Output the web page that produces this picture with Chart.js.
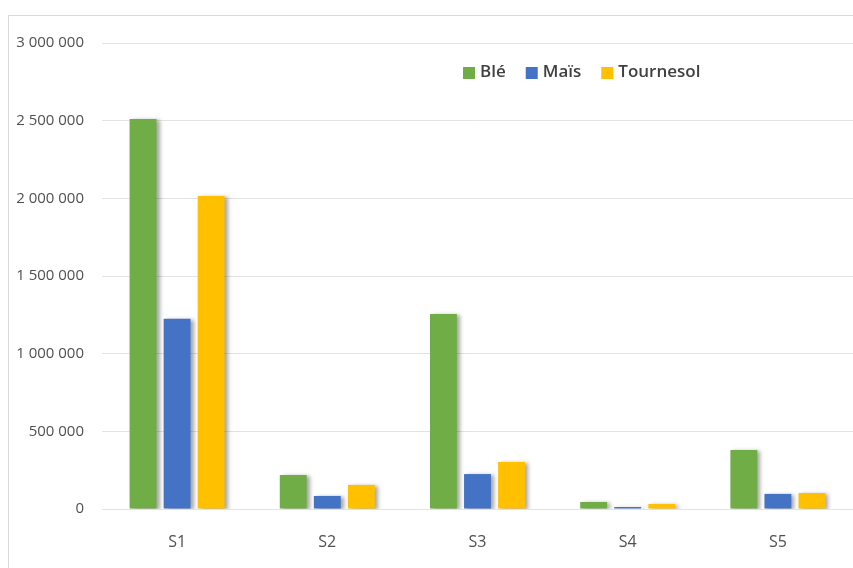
<!DOCTYPE html>
<html>
<head>
<meta charset="utf-8">
<script src="https://cdn.jsdelivr.net/npm/chart.js@4"></script>
<style>
  html, body { margin: 0; padding: 0; background: #fff; overflow: hidden; }
  #wrap { position: relative; width: 853px; height: 568px; }
  #frame { position: absolute; left: 8px; top: 15px; width: 900px; height: 600px; border: 1px solid #d9d9d9; box-sizing: border-box; }
  canvas { position: absolute; left: 0; top: 0; }
</style>
</head>
<body>
<div id="wrap">
  <div id="frame"></div>
  <canvas id="chart" width="853" height="568"></canvas>
</div>
<script>
const categories = ['S1', 'S2', 'S3', 'S4', 'S5'];
const seriesNames = ['Blé', 'Maïs', 'Tournesol'];
const ble = [2510000, 219000, 1255000, 45000, 380000];
const mais = [1225000, 84000, 225000, 13000, 97000];
const tournesol = [2015000, 155000, 303000, 32000, 103000];
const colors = ['#70AD47', '#4472C4', '#FFC000'];
const yTicks = [0, 500000, 1000000, 1500000, 2000000, 2500000, 3000000];

function formatThousands(v) {
    return String(v).replace(/\B(?=(\d{3})+(?!\d))/g, ' ');
}

// soft shadow to the right of the bars, like the Excel original
const barShadow = {
    id: 'barShadow',
    beforeDatasetsDraw(chart) {
        const ctx = chart.ctx;
        ctx.save();
        ctx.shadowColor = 'rgba(0, 0, 0, 0.35)';
        ctx.shadowBlur = 4;
        ctx.shadowOffsetX = 3;
        ctx.shadowOffsetY = 1;
    },
    afterDatasetsDraw(chart) {
        chart.ctx.restore();
    }
};

// legend drawn inside the plot area, top right
const innerLegend = {
    id: 'innerLegend',
    afterDraw(chart) {
        const ctx = chart.ctx;
        ctx.save();
        ctx.font = '600 17px "Open Sans"';
        ctx.textBaseline = 'middle';
        let x = 463;
        const y = 72;
        chart.data.datasets.forEach(ds => {
            ctx.fillStyle = ds.backgroundColor;
            ctx.fillRect(x, y - 5, 12, 12);
            x += 17;
            ctx.fillStyle = '#404040';
            ctx.fillText(ds.label, x, y);
            x += ctx.measureText(ds.label).width + 20;
        });
        ctx.restore();
    }
};

const ctx = document.getElementById('chart').getContext('2d');
new Chart(ctx, {
    type: 'bar',
    data: {
        labels: categories,
        datasets: [
            { label: seriesNames[0], data: ble, backgroundColor: colors[0] },
            { label: seriesNames[1], data: mais, backgroundColor: colors[1] },
            { label: seriesNames[2], data: tournesol, backgroundColor: colors[2] }
        ]
    },
    options: {
        responsive: false,
        animation: false,
        layout: { padding: { top: 43, right: 0, bottom: 0, left: 0 } },
        datasets: {
            bar: { barPercentage: 0.79, categoryPercentage: 0.68 }
        },
        scales: {
            x: {
                grid: { display: false },
                border: { display: false },
                ticks: {
                    color: '#505050',
                    font: { family: '"Open Sans"', size: 16, weight: '500' },
                    padding: 16
                },
                afterFit(scale) { scale.height = 59; }
            },
            y: {
                min: 0,
                max: 3000000,
                afterBuildTicks(scale) {
                    scale.ticks = yTicks.map(v => ({ value: v }));
                },
                grid: { color: '#e3e3e3', lineWidth: 1, drawTicks: false },
                border: { display: false },
                ticks: {
                    color: '#505050',
                    font: { family: '"Open Sans"', size: 15, weight: '500' },
                    padding: 18,
                    callback: v => formatThousands(v)
                },
                afterFit(scale) { scale.width = 102; }
            }
        },
        plugins: {
            legend: { display: false },
            tooltip: { enabled: false }
        }
    },
    plugins: [barShadow, innerLegend]
});
</script>
</body>
</html>
